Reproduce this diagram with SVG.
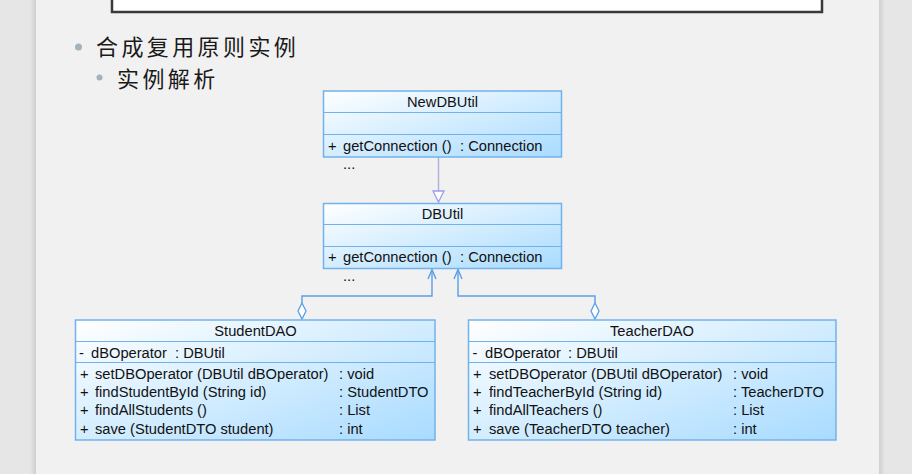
<svg xmlns="http://www.w3.org/2000/svg" width="912" height="474" viewBox="0 0 912 474">
<defs>
<linearGradient id="cls" x1="0" y1="0" x2="1" y2="1">
<stop offset="0" stop-color="#ffffff"/>
<stop offset="1" stop-color="#a8dbff"/>
</linearGradient>
<linearGradient id="shL" x1="0" y1="0" x2="1" y2="0">
<stop offset="0" stop-color="#e6e6e6"/>
<stop offset="1" stop-color="#cfcfcf"/>
</linearGradient>
<linearGradient id="shR" x1="0" y1="0" x2="1" y2="0">
<stop offset="0" stop-color="#cfcfcf"/>
<stop offset="1" stop-color="#e6e6e6"/>
</linearGradient>
</defs>
<style>
.box{fill:url(#cls);stroke:#72b2ec;stroke-width:1.5}
.sep{stroke:#72b2ec;stroke-width:1.2}
.t{font-family:"Liberation Sans",Arial,sans-serif;font-size:14.7px;fill:#111}
.c{text-anchor:middle}
.cn{font-family:"Noto Sans CJK SC",sans-serif;fill:#1a1a1a;font-size:22px;letter-spacing:3.4px}
.agg{fill:none;stroke:#5a9ee8;stroke-width:1.4}
.dia{fill:#ffffff;stroke:#5a9ee8;stroke-width:1.3}
</style>
<rect x="0" y="0" width="912" height="474" fill="#e6e6e6"/>
<rect x="30" y="0" width="6" height="474" fill="url(#shL)"/>
<rect x="879" y="0" width="6" height="474" fill="url(#shR)"/>
<rect x="36" y="0" width="843" height="474" fill="#f1f1f1"/>
<g id="titlebox">
<rect x="112" y="-20" width="710" height="32" fill="#ffffff" stroke="#3a3a3a" stroke-width="2.5"/>
</g>
<g id="bullets">
<circle cx="78.5" cy="47" r="3.5" fill="#a3b3bb"/>
<text class="cn" x="96" y="55">合成复用原则实例</text>
<circle cx="99.5" cy="77.5" r="3" fill="#a3b3bb"/>
<text class="cn" x="117" y="87">实例解析</text>
</g>
<g id="connectors">
<line x1="438.5" y1="157" x2="438.5" y2="191" stroke="#b0b0da" stroke-width="1.4"/>
<path d="M433,191 L444,191 L438.5,202 Z" fill="#ffffff" stroke="#9c9cee" stroke-width="1.3"/>
<path class="agg" d="M302,303 L302,296 L432,296 L432,269.5"/>
<path class="agg" d="M428,279 L432,269.5 L436,279"/>
<path class="dia" d="M302,303 L306,311 L302,319 L298,311 Z"/>
<path class="agg" d="M595,303 L595,296 L458,296 L458,269.5"/>
<path class="agg" d="M454,279 L458,269.5 L462,279"/>
<path class="dia" d="M595,303 L599,311 L595,319 L591,311 Z"/>
</g>
<g id="NewDBUtil">
<rect class="box" x="323.5" y="91" width="238" height="66"/>
<line class="sep" x1="323.5" y1="112.5" x2="561.5" y2="112.5"/>
<line class="sep" x1="323.5" y1="134.5" x2="561.5" y2="134.5"/>
<text class="t c" x="442.5" y="107">NewDBUtil</text>
<text class="t" x="328" y="150.5">+</text>
<text class="t" x="343" y="150.5">getConnection ()</text>
<text class="t" x="460" y="150.5">: Connection</text>
<text class="t" x="343" y="169">...</text>
</g>
<g id="DBUtil">
<rect class="box" x="323.5" y="203.5" width="238" height="65"/>
<line class="sep" x1="323.5" y1="224.5" x2="561.5" y2="224.5"/>
<line class="sep" x1="323.5" y1="246.5" x2="561.5" y2="246.5"/>
<text class="t c" x="442.5" y="219">DBUtil</text>
<text class="t" x="328" y="262">+</text>
<text class="t" x="343" y="262">getConnection ()</text>
<text class="t" x="460" y="262">: Connection</text>
<text class="t" x="343" y="281">...</text>
</g>
<g id="StudentDAO">
<rect class="box" x="75.5" y="320" width="359.5" height="120"/>
<line class="sep" x1="75.5" y1="341.5" x2="435" y2="341.5"/>
<line class="sep" x1="75.5" y1="362.5" x2="435" y2="362.5"/>
<text class="t c" x="255.5" y="336">StudentDAO</text>
<text class="t" x="79" y="357.5">-</text>
<text class="t" x="91" y="357.5">dBOperator</text>
<text class="t" x="175" y="357.5">: DBUtil</text>
<text class="t" x="80" y="378.5">+</text>
<text class="t" x="95" y="378.5">setDBOperator (DBUtil dBOperator)</text>
<text class="t" x="339" y="378.5">: void</text>
<text class="t" x="80" y="397">+</text>
<text class="t" x="95" y="397">findStudentById (String id)</text>
<text class="t" x="339" y="397">: StudentDTO</text>
<text class="t" x="80" y="415">+</text>
<text class="t" x="95" y="415">findAllStudents ()</text>
<text class="t" x="339" y="415">: List</text>
<text class="t" x="80" y="433.5">+</text>
<text class="t" x="95" y="433.5">save (StudentDTO student)</text>
<text class="t" x="339" y="433.5">: int</text>
</g>
<g id="TeacherDAO">
<rect class="box" x="468.5" y="320" width="367.5" height="120"/>
<line class="sep" x1="468.5" y1="341.5" x2="836" y2="341.5"/>
<line class="sep" x1="468.5" y1="362.5" x2="836" y2="362.5"/>
<text class="t c" x="652" y="336">TeacherDAO</text>
<text class="t" x="472.5" y="357.5">-</text>
<text class="t" x="485" y="357.5">dBOperator</text>
<text class="t" x="568" y="357.5">: DBUtil</text>
<text class="t" x="473" y="378.5">+</text>
<text class="t" x="489" y="378.5">setDBOperator (DBUtil dBOperator)</text>
<text class="t" x="733" y="378.5">: void</text>
<text class="t" x="473" y="397">+</text>
<text class="t" x="489" y="397">findTeacherById (String id)</text>
<text class="t" x="733" y="397">: TeacherDTO</text>
<text class="t" x="473" y="415">+</text>
<text class="t" x="489" y="415">findAllTeachers ()</text>
<text class="t" x="733" y="415">: List</text>
<text class="t" x="473" y="433.5">+</text>
<text class="t" x="489" y="433.5">save (TeacherDTO teacher)</text>
<text class="t" x="733" y="433.5">: int</text>
</g>
</svg>
